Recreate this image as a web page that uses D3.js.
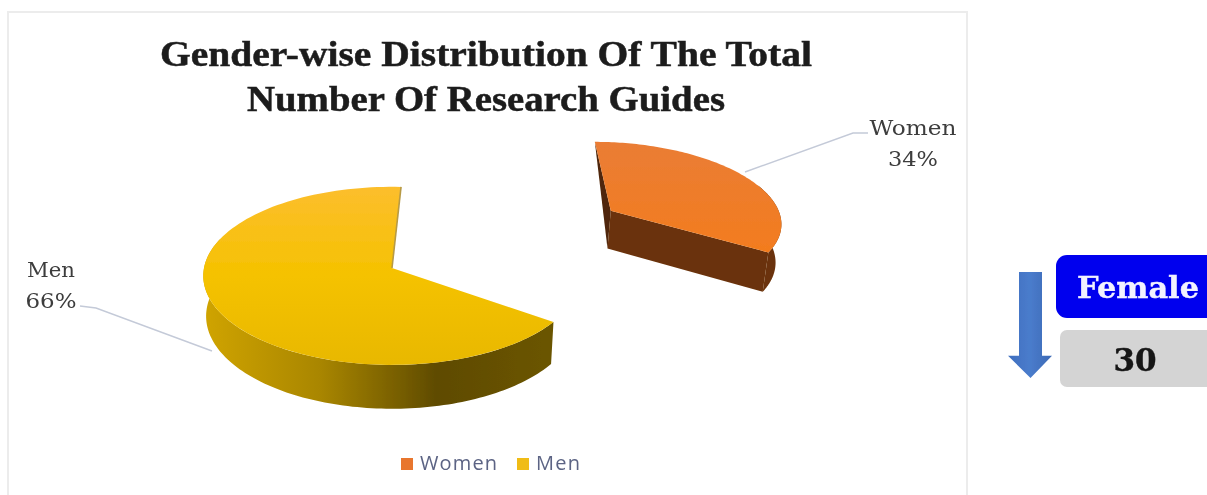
<!DOCTYPE html>
<html><head><meta charset="utf-8">
<script src="https://cdn.jsdelivr.net/npm/d3@7/dist/d3.min.js"></script>
<style>html,body{margin:0;padding:0;background:#fff;overflow:hidden}svg{display:block}</style>
</head><body><svg id="c" width="1207" height="495"></svg>
<script>
const categories = ["Women", "Men"];
const shares = [34, 66];
const titleLines = ["Gender-wise Distribution Of The Total", "Number Of Research Guides"];
const sideLabels = ["Female", "30"];
const topColors = [["#ea7d35", "#f37c1e"], ["#fcbe2d", "#f5c200", "#e8b800"]];
const wallColors = [["#6b3309", "#6b3309"], ["#d0a400", "#a98600", "#5f4b00", "#6b5500"]];
const legendColors = ["#e8762f", "#f0bc12"];

const svg = d3.select("#c");
const defs = svg.append("defs");
const grad = (id, stops, x2, y2) => {
  const g = defs.append("linearGradient").attr("id", id)
    .attr("x1", 0).attr("y1", 0).attr("x2", x2).attr("y2", y2);
  stops.forEach((c, i) => g.append("stop").attr("offset", i / (stops.length - 1)).attr("stop-color", c));
};
grad("top0", topColors[0], 0, 1);
grad("top1", topColors[1], 0, 1);
grad("wall0", wallColors[0], 1, 0);
grad("wall1", wallColors[1], 1, 0);
grad("arrowG", ["#3f6fbf", "#4a7ccc", "#3c69b5"], 1, 0);
const soft = defs.append("filter").attr("id", "soft").attr("x", "-5%").attr("y", "-5%").attr("width", "110%").attr("height", "110%");
soft.append("feGaussianBlur").attr("stdDeviation", 0.7);

const root = svg.append("g").attr("filter", "url(#soft)");

// frame
root.append("rect").attr("x", 8).attr("y", 12).attr("width", 959).attr("height", 500)
  .attr("fill", "#fff").attr("stroke", "#ececec").attr("stroke-width", 2);

// title
root.append("g").selectAll("text").data(titleLines).join("text")
  .attr("x", 486).attr("y", (d, i) => 66 + i * 45)
  .attr("text-anchor", "middle")
  .attr("font-family", "'Liberation Serif'").attr("font-weight", "bold")
  .attr("font-size", 36).attr("fill", "#1c1c1c")
  .attr("stroke", "#1c1c1c").attr("stroke-width", 0.5)
  .attr("textLength", (d, i) => i ? 478 : 652).attr("lengthAdjust", "spacingAndGlyphs")
  .text(d => d);

// pie layout: the angles come from the shares; each slice has its own view settings
const deg = Math.PI / 180;
const pie = d3.pie().sort(null);
const arcs = pie(shares);
const views = [
  { rot: 0, R: 178, tilt: 0.47, off: [232, -129], wallFrom: 70 * deg, wallTo: 360 * deg },
  { rot: 3 * deg, R: 188, tilt: 0.47, off: [0, 0], wallFrom: 0, wallTo: 290 * deg }
];
const persp = 0.089, refR = 190, vx = 392, vy = 268, depth = 40, shrink = 0.985;
function project(ang, r, v, low) {
  const X = v.off[0] + r * Math.sin(ang), Y = v.off[1] - r * Math.cos(ang);
  const s = 1 / (1 - persp * Y / refR);
  const f = low ? shrink : 1;
  return [vx + X * s * f, vy + v.tilt * Y * s + (low ? depth * s : 0)];
}
const line = d3.line().curve(d3.curveLinear);
const angles = (a, b) => d3.range(0, 121).map(i => a + (b - a) * i / 120);

const pieG = root.append("g");
arcs.forEach((a, i) => {
  const v = views[i];
  const start = a.startAngle + v.rot, end = a.endAngle + v.rot;
  const ring = angles(start, end);
  const wallRing = angles(Math.max(start, v.wallFrom), Math.min(end, v.wallTo));
  const g = pieG.append("g").attr("class", "slice");
  const wallPts = wallRing.map(t => project(t, v.R, v, false))
    .concat(wallRing.slice().reverse().map(t => project(t, v.R, v, true)));
  if (i === 0) {
    g.append("path").attr("d", line([project(start, v.R, v, false), project(0, 0, v, false), project(0, 0, v, true)]) + "Z").attr("fill", "#4f2607");
    g.append("path").attr("d", line([project(end, 0, v, false), project(end, v.R, v, false), project(end, v.R, v, true), project(end, 0, v, true)]) + "Z").attr("fill", "#6b3309");
  }
  g.append("path").attr("d", line(wallPts) + "Z").attr("fill", `url(#wall${i})`);
  const topPts = [project(0, 0, v, false)].concat(ring.map(t => project(t, v.R, v, false)));
  g.append("path").attr("d", line(topPts) + "Z").attr("fill", `url(#top${i})`);
  if (i === 1) {
    g.append("path").attr("d", line([project(end, v.R, v, false), project(0, 0, v, false)]))
      .attr("fill", "none").attr("stroke", "#b79a45").attr("stroke-width", 1.6);
  }
});

// leader lines
const leaders = [[[745, 172], [853, 133], [868, 133]], [[80, 306], [96, 308], [212, 351]]];
root.append("g").selectAll("path").data(leaders).join("path")
  .attr("d", d => line(d)).attr("fill", "none").attr("stroke", "#c4cad8").attr("stroke-width", 1.4);

// data labels
const labelPos = [[913, 135], [51, 277]];
const nameWidth = [87, 48], pctWidth = [50, 51];
arcs.forEach((a, i) => {
  const lab = (txt, y, w) => root.append("text").attr("x", labelPos[i][0]).attr("y", y)
    .attr("text-anchor", "middle")
    .attr("font-family", "'DejaVu Serif'").attr("font-size", 20).attr("fill", "#3c3c3c")
    .attr("textLength", w).attr("lengthAdjust", "spacingAndGlyphs").text(txt);
  lab(categories[i], labelPos[i][1], nameWidth[i]);
  lab(shares[i] + "%", labelPos[i][1] + 31, pctWidth[i]);
});

// legend
const legendX = [[401, 420], [517, 536]];
const legendW = [77, 44];
const legend = root.append("g").selectAll("g").data(categories).join("g");
legend.append("rect").attr("x", (d, i) => legendX[i][0]).attr("y", 458)
  .attr("width", 12).attr("height", 12).attr("fill", (d, i) => legendColors[i]);
legend.append("text").attr("x", (d, i) => legendX[i][1]).attr("y", 470)
  .attr("font-family", "'Open Sans'").attr("font-size", 20).attr("fill", "#5c6484")
  .attr("textLength", (d, i) => legendW[i]).attr("lengthAdjust", "spacing")
  .text(d => d);

// side panel
const arrowScaleY = d3.scaleLinear().domain([0, 1]).range([272, 378]);
root.append("path")
  .attr("d", line([[1019, arrowScaleY(0)], [1042, arrowScaleY(0)], [1042, arrowScaleY(0.79)], [1052, arrowScaleY(0.79)],
    [1030.5, arrowScaleY(1)], [1008, arrowScaleY(0.79)], [1019, arrowScaleY(0.79)]]) + "Z")
  .attr("fill", "url(#arrowG)");
root.append("rect").attr("x", 1056).attr("y", 255).attr("width", 170).attr("height", 63).attr("rx", 11).attr("fill", "#0000ee");
root.append("rect").attr("x", 1060).attr("y", 330).attr("width", 170).attr("height", 57).attr("rx", 7).attr("fill", "#d4d4d4");
root.append("text").attr("x", 1138).attr("y", 298).attr("text-anchor", "middle")
  .attr("font-family", "'DejaVu Serif'").attr("font-weight", "bold").attr("font-size", 30).attr("fill", "#f2f2ff")
  .attr("stroke", "#f2f2ff").attr("stroke-width", 0.4)
  .attr("textLength", 122).attr("lengthAdjust", "spacingAndGlyphs").text(sideLabels[0]);
root.append("text").attr("x", 1135).attr("y", 371).attr("text-anchor", "middle")
  .attr("font-family", "'DejaVu Serif'").attr("font-weight", "bold").attr("font-size", 31).attr("fill", "#151515")
  .attr("stroke", "#151515").attr("stroke-width", 0.4)
  .text(sideLabels[1]);
</script></body></html>
